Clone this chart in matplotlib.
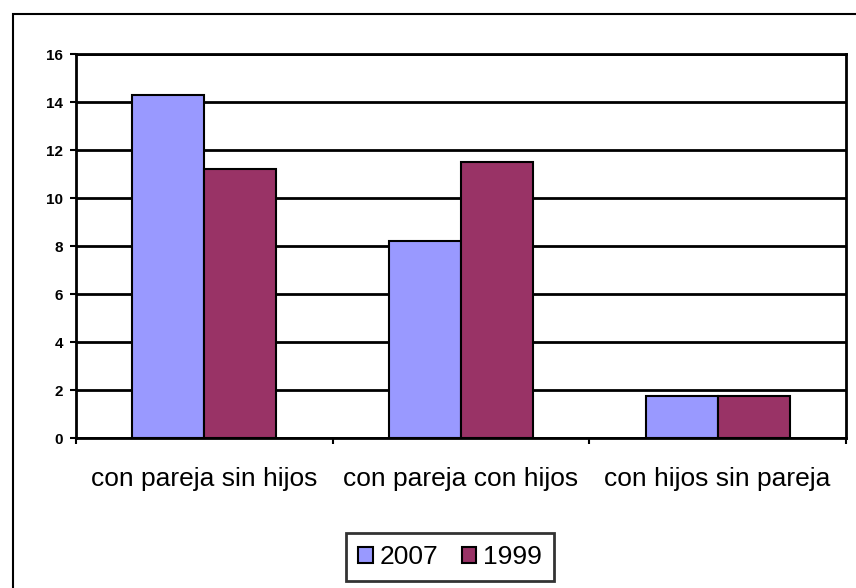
import numpy as np
import matplotlib.pyplot as plt
from matplotlib.patches import Rectangle

categories = ["con pareja sin hijos", "con pareja con hijos", "con hijos sin pareja"]
years = ["2007", "1999"]
vals_2007 = [14.3, 8.2, 1.75]
vals_1999 = [11.2, 11.5, 1.75]
colors = ["#9999FF", "#993366"]

W, H = 856, 588
fig = plt.figure(figsize=(W / 100, H / 100), dpi=100)
fig.patch.set_facecolor("white")

# outer chart frame (runs off the image on right/bottom)
fig.patches.append(Rectangle((13 / W, -0.1), 1.2, 1 - 14 / H + 0.1, transform=fig.transFigure,
                             fill=False, edgecolor="black", linewidth=1.5))

ax = fig.add_axes([76 / W, (H - 438) / H, (846 - 76) / W, (438 - 54) / H])
x = np.arange(len(categories))
w = 0.28
ax.bar(x - w / 2, vals_2007, w, color=colors[0], edgecolor="black", linewidth=1.5, label=years[0], zorder=3)
ax.bar(x + w / 2, vals_1999, w, color=colors[1], edgecolor="black", linewidth=1.5, label=years[1], zorder=3)

ax.set_xlim(-0.5, 2.5)
ax.set_ylim(0, 16)
ax.set_yticks(range(0, 17, 2))
ax.yaxis.grid(True, color="black", linewidth=2)
ax.set_axisbelow(True)
for s in ax.spines.values():
    s.set_linewidth(2)

ax.set_xticks([-0.5, 0.5, 1.5, 2.5])
ax.set_xticklabels([])
ax.set_xticks(x, minor=True)
ax.set_xticklabels(categories, minor=True, fontsize=19, family="Liberation Sans")
ax.tick_params(axis="x", which="minor", length=0, pad=21)
ax.tick_params(axis="x", which="major", length=4.5, width=1.5, direction="out")
ax.tick_params(axis="y", length=4.5, width=1.5, direction="out", labelsize=11, pad=5)
for t in ax.get_yticklabels():
    t.set_fontweight("bold")
    t.set_family("Liberation Sans")

leg = fig.legend(loc="center", bbox_to_anchor=(450 / W, (H - 557) / H), ncol=2,
                 frameon=True, fancybox=False, edgecolor="black",
                 prop={"family": "Liberation Sans", "size": 19},
                 handlelength=0.55, handleheight=0.55, handletextpad=0.25, columnspacing=0.9,
                 borderpad=0.45, borderaxespad=0)
leg.get_frame().set_linewidth(2)

fig.savefig("out.png", dpi=100)
